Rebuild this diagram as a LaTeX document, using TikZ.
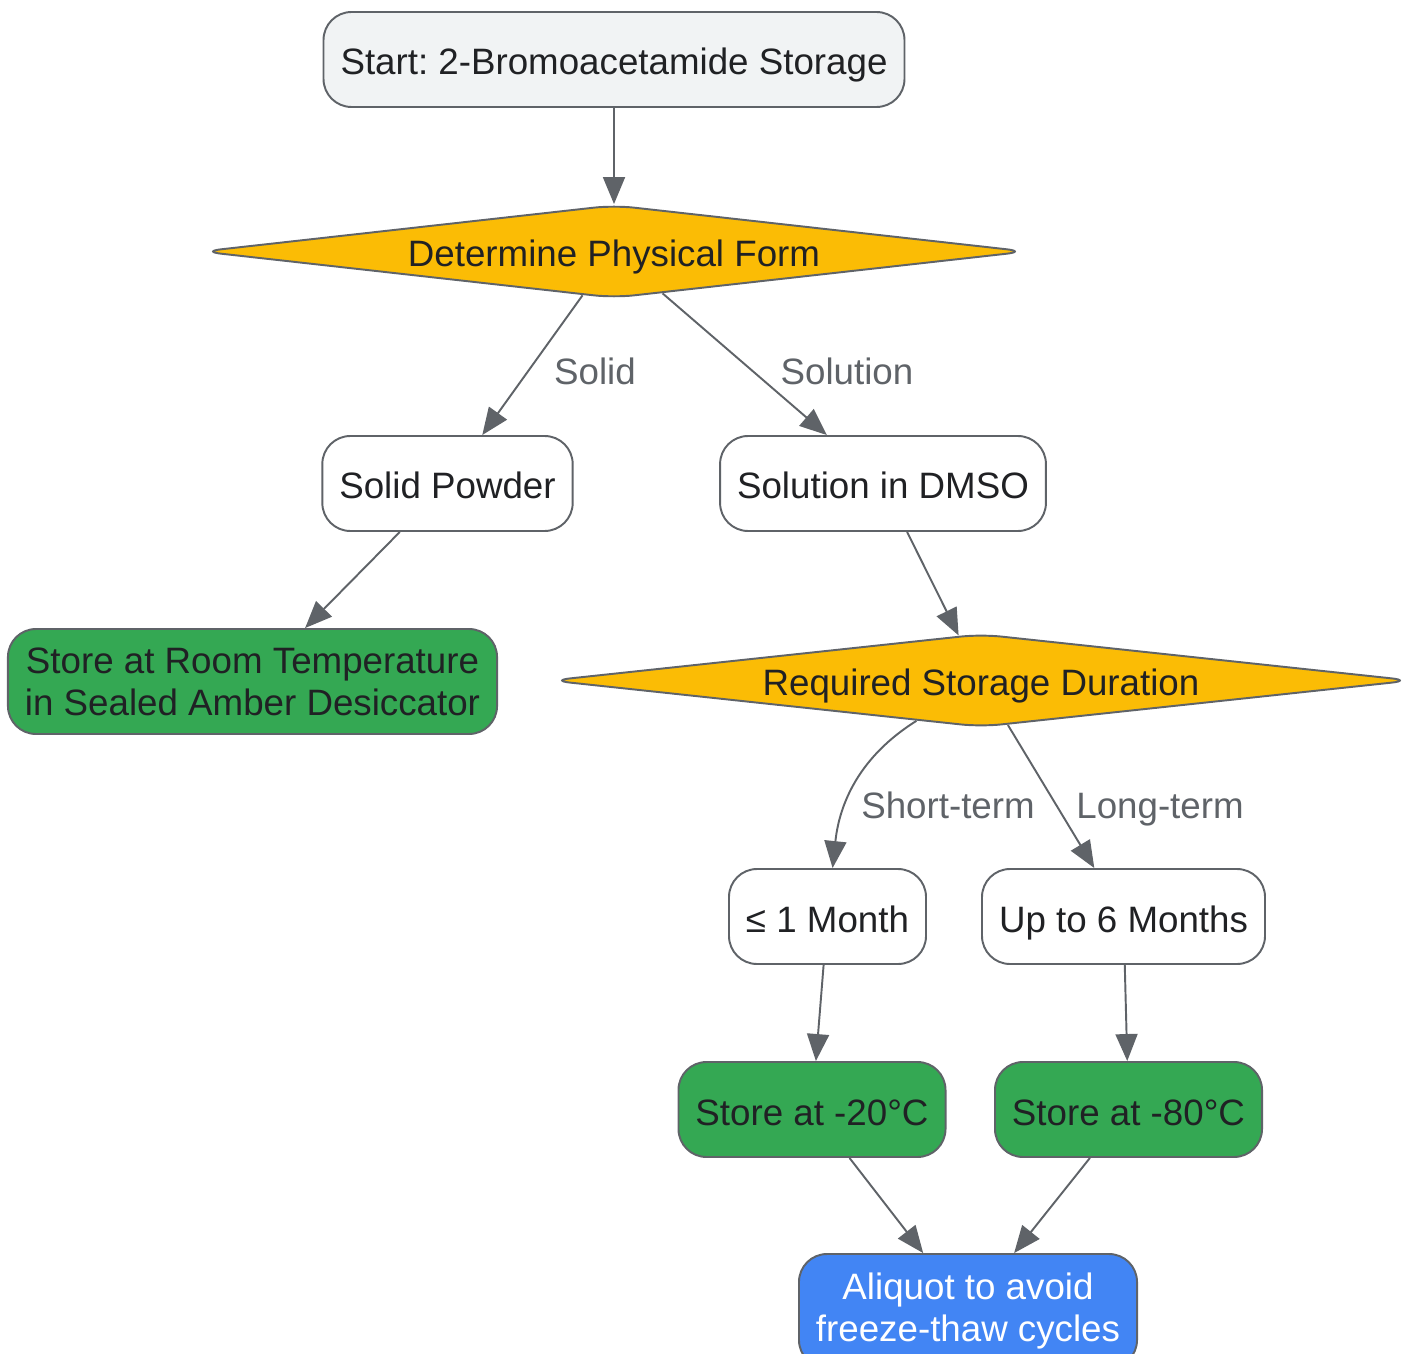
\documentclass[tikz,border=0pt]{standalone}
\usepackage{fontspec}
\setmainfont{Liberation Sans}
\usetikzlibrary{shapes.geometric,arrows.meta}
\definecolor{edgegray}{HTML}{5F6368}
\definecolor{textdark}{HTML}{202124}
\definecolor{startgray}{HTML}{F1F3F4}
\definecolor{amber}{HTML}{FBBC05}
\definecolor{leafgreen}{HTML}{34A853}
\definecolor{aliquotblue}{HTML}{4285F4}
\tikzstyle{oneLine}=[text height = 0.78cm, text depth = 0.16cm]
\tikzstyle{boxStyle}=[shape = rectangle, rounded corners = 0.56cm, draw = edgegray, line width = 1.1pt, minimum height = 1.9cm, inner xsep = 0.34cm, text = textdark, align = center]
\tikzstyle{decisionStyle}=[shape = diamond, aspect = 9, rounded corners = 0.4cm, draw = edgegray, line width = 1.1pt, fill = amber, inner sep = 0pt, minimum height = 1.86cm, text = textdark, text height = 0.62cm, text depth = 0cm]

\begin{document}
\frenchspacing
\begin{tikzpicture}[x = 0.02cm, y = 0.02cm, font = \fontsize{20.9}{23.8}\selectfont]
\tikzstyle{EdgeStyle} = [draw = edgegray, line width = 1.1pt, -{Triangle[length = 0.54cm, width = 0.44cm]}]
\tikzstyle{labelStyle} = [text = edgegray, inner sep = 0pt, oneLine]
\useasboundingbox (0,0) rectangle (1409,-1354);
\node[boxStyle, oneLine, fill = startgray] (start) at (614,-59.5) {Start: 2-Bromoacetamide Storage};
\node[decisionStyle, minimum width = 16.52cm] (form) at (614,-251.5) {Determine Physical Form};
\node[boxStyle, oneLine, fill = white] (solid) at (447.5,-483.5) {Solid Powder};
\node[boxStyle, oneLine, fill = white] (solution) at (883,-483.5) {Solution in DMSO};
\node[boxStyle, fill = leafgreen, minimum height = 2.1cm] (room) at (252.5,-681.5) {Store at Room Temperature\\in Sealed Amber Desiccator};
\node[decisionStyle, minimum width = 17.24cm] (duration) at (981,-680.5) {Required Storage Duration};
\node[boxStyle, oneLine, fill = white] (month1) at (827.5,-916.5) {≤ 1 Month};
\node[boxStyle, oneLine, fill = white] (month6) at (1123.5,-916.5) {Up to 6 Months};
\node[boxStyle, oneLine, fill = leafgreen] (minus20) at (812,-1109.5) {Store at -20°C};
\node[boxStyle, oneLine, fill = leafgreen] (minus80) at (1128.5,-1109.5) {Store at -80°C};
\node[boxStyle, fill = aliquotblue, text = white, minimum height = 2.28cm] (aliquot) at (968,-1311) {Aliquot to avoid\\freeze-thaw cycles};
\node[labelStyle] (lsolid) at (595,-369) {Solid};
\node[labelStyle] (lsolution) at (847,-369) {Solution};
\node[labelStyle] (lshort) at (948,-803) {Short-term};
\node[labelStyle] (llong) at (1160,-803) {Long-term};
\draw[EdgeStyle] (start) -- (form);
\draw[EdgeStyle] (form) -- (solid);
\draw[EdgeStyle] (form) -- (solution);
\draw[EdgeStyle] (solid) -- (room);
\draw[EdgeStyle] (solution) -- (duration);
\draw[EdgeStyle] (duration) to[out = -148, in = 84] (month1);
\draw[EdgeStyle] (duration) -- (month6);
\draw[EdgeStyle] (month1) -- (minus20);
\draw[EdgeStyle] (month6) -- (minus80);
\draw[EdgeStyle] (minus20) -- (aliquot);
\draw[EdgeStyle] (minus80) -- (aliquot);
\end{tikzpicture}
\end{document}
